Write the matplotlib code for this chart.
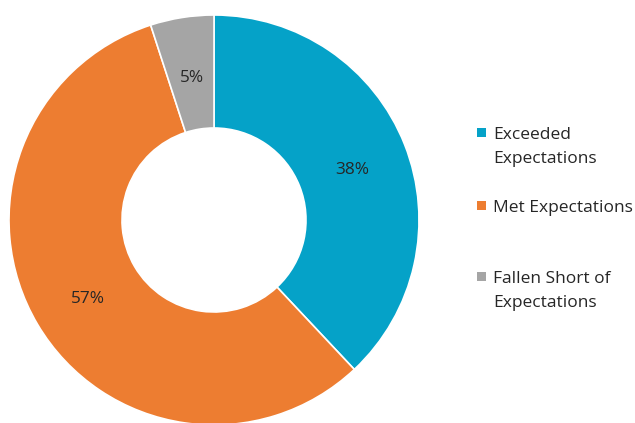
import matplotlib
matplotlib.use("Agg")
import matplotlib.pyplot as plt
from matplotlib.patches import Rectangle

plt.rcParams["font.family"] = ["Open Sans", "DejaVu Sans"]

labels = ["Exceeded\nExpectations", "Met Expectations", "Fallen Short of\nExpectations"]
shares = [38, 57, 5]
colors = ["#05A2C8", "#ED7D31", "#A5A5A5"]

W, H = 635, 423
fig = plt.figure(figsize=(W / 100, H / 100), dpi=100)
ax = fig.add_axes([0, 0, 1, 1])

R = 205
wedges, texts, pcts = ax.pie(
    shares, colors=colors, startangle=90, counterclock=False,
    center=(214, H - 220), radius=R, frame=True,
    autopct=lambda p: f"{p:.0f}%", pctdistance=0.72,
    wedgeprops=dict(width=R - 92, edgecolor="white", linewidth=1.2),
    textprops=dict(fontsize=12.4, color="#262626"),
)
# nudge the percent labels down a touch
for t in pcts:
    x, y = t.get_position()
    t.set_position((x + 1, y - 4))

ax.set_xlim(0, W)
ax.set_ylim(0, H)
ax.set_aspect("equal")
ax.axis("off")

# legend, drawn by hand so the swatch sits on the first line
baselines = [139, 212, 283]
line_step = 24
for lab, col, yb in zip(labels, colors, baselines):
    n = lab.count("\n")
    ax.add_patch(Rectangle((477, H - yb + 2), 9, 9, facecolor=col, edgecolor="none"))
    ax.text(493, H - yb - n * line_step, lab, fontsize=12.5, color="#262626",
            va="baseline", ha="left", linespacing=1.66)

fig.savefig("out.png", dpi=100)
